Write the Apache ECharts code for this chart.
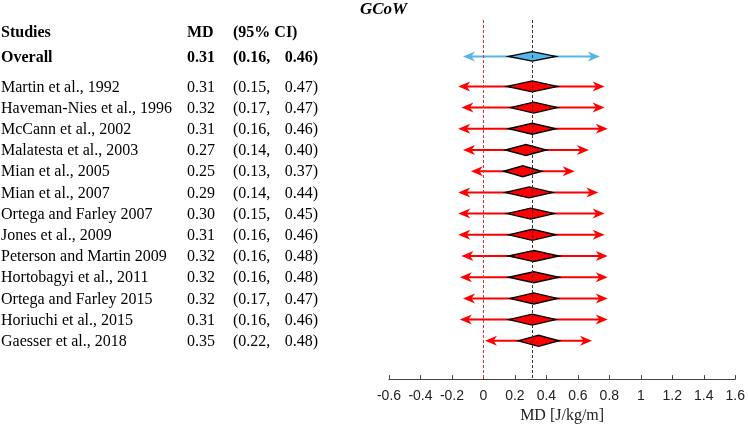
<!DOCTYPE html>
<html>
<head>
<meta charset="utf-8">
<script src="https://cdn.jsdelivr.net/npm/echarts@6/dist/echarts.min.js"></script>
<style>html,body{margin:0;padding:0;background:#fff;}#c{width:748px;height:429px;}</style>
</head>
<body>
<div id="c"></div>
<script>
// ---- data ----
const studies = ["Martin et al., 1992","Haveman-Nies et al., 1996","McCann et al., 2002","Malatesta et al., 2003","Mian et al., 2005","Mian et al., 2007","Ortega and Farley 2007","Jones et al., 2009","Peterson and Martin 2009","Hortobagyi et al., 2011","Ortega and Farley 2015","Horiuchi et al., 2015","Gaesser et al., 2018"];
const md     = [0.31,0.32,0.31,0.27,0.25,0.29,0.30,0.31,0.32,0.32,0.32,0.31,0.35];
const ciLow  = [0.15,0.17,0.16,0.14,0.13,0.14,0.15,0.16,0.16,0.16,0.17,0.16,0.22];
const ciHigh = [0.47,0.47,0.46,0.40,0.37,0.44,0.45,0.46,0.48,0.48,0.47,0.46,0.48];
const piLow  = [-0.16,-0.14,-0.16,-0.13,-0.08,-0.16,-0.16,-0.16,-0.14,-0.15,-0.13,-0.15,0.01];
const piHigh = [0.77,0.77,0.79,0.67,0.58,0.73,0.77,0.77,0.79,0.79,0.79,0.79,0.69];
const overall = {label:"Overall", md:0.31, ciLow:0.16, ciHigh:0.46, piLow:-0.13, piHigh:0.74};
const headers = ["Studies","MD","(95% CI)"];
const xTicks = {min:-0.6, max:1.6, interval:0.2};
const refLines = [0, 0.31];

// ---- layout (rows) ----
const HEADER_ROW = -1.575, OVERALL_ROW = -0.415;
const rowOf = i => i + 1;
const fmt = v => v.toFixed(2);

const intervalData = studies.map((s,i)=>[md[i],ciLow[i],ciHigh[i],piLow[i],piHigh[i],rowOf(i),0]);
intervalData.unshift([overall.md,overall.ciLow,overall.ciHigh,overall.piLow,overall.piHigh,OVERALL_ROW,1]);

const tableData = [[0,HEADER_ROW,-1],[0,OVERALL_ROW,-2]].concat(studies.map((s,i)=>[0,rowOf(i),i]));

const SERIF = "'Liberation Serif','Times New Roman',serif";

function arrowHead(tipX, y, dir){ // dir: -1 left-pointing, +1 right-pointing
  const L=12, N=8.5, W=5;
  return [[tipX,y],[tipX-dir*L,y-W],[tipX-dir*N,y],[tipX-dir*L,y+W]];
}

function renderInterval(params, api){
  const m=api.value(0), lo=api.value(1), hi=api.value(2), plo=api.value(3), phi=api.value(4), r=api.value(5), isOv=api.value(6);
  const pm=api.coord([m,r]), plo_=api.coord([plo,r]), phi_=api.coord([phi,r]), clo=api.coord([lo,r]), chi=api.coord([hi,r]);
  const y=pm[1];
  const col = isOv ? '#56b6e6' : '#ff0000';
  const h = isOv ? 9.5 : 11;
  return {type:'group', children:[
    {type:'line', shape:{x1:plo_[0]+6,y1:y,x2:phi_[0]-6,y2:y}, style:{stroke:col,lineWidth:2}},
    {type:'polygon', shape:{points:arrowHead(plo_[0],y,-1)}, style:{fill:col}},
    {type:'polygon', shape:{points:arrowHead(phi_[0],y,1)}, style:{fill:col}},
    {type:'polygon', shape:{points:[[clo[0],y],[pm[0],y-h/2],[chi[0],y],[pm[0],y+h/2]]}, style:{fill:col,stroke:'#000',lineWidth:1.4}}
  ]};
}

function txt(x,y,text,bold,align){
  return {type:'text', x:x, y:y, style:{text:text, fill:'#000', fontSize:16, fontFamily:SERIF, fontWeight:bold?'bold':'normal', align:align||'left', verticalAlign:'middle'}};
}

function renderTable(params, api){
  const r=api.value(1), k=api.value(2);
  const y=api.coord([0,r])[1]+1;
  if(k===-1){
    return {type:'group', children:[txt(1,y,headers[0],true),txt(187,y,headers[1],true),txt(233,y,headers[2],true)]};
  }
  if(k===-2){
    return {type:'group', children:[txt(1,y,overall.label,true),txt(187,y,fmt(overall.md),true),txt(233,y,'('+fmt(overall.ciLow)+',',true),txt(318,y,fmt(overall.ciHigh)+')',true,'right')]};
  }
  return {type:'group', children:[txt(1,y,studies[k],false),txt(187,y,fmt(md[k]),false),txt(233,y,'('+fmt(ciLow[k])+',',false),txt(318,y,fmt(ciHigh[k])+')',false,'right')]};
}

const chart = echarts.init(document.getElementById('c'), null, {renderer:'canvas'});
chart.setOption({
  animation:false,
  backgroundColor:'#fff',
  title:{text:'GCoW', left:355, top:-4, textStyle:{fontFamily:SERIF, fontSize:17, fontWeight:'bold', fontStyle:'italic', color:'#000'}},
  grid:{left:389, right:10, top:20, bottom:44},
  xAxis:{type:'value', min:xTicks.min, max:xTicks.max, interval:xTicks.interval,
    name:'MD [J/kg/m]', nameLocation:'middle', nameGap:27,
    nameTextStyle:{fontFamily:SERIF, fontSize:16, color:'#222'},
    axisLine:{show:true, onZero:false, lineStyle:{color:'#444', width:1}},
    axisTick:{show:true, inside:true, length:4, lineStyle:{color:'#444'}},
    axisLabel:{fontFamily:"'Liberation Sans',Arial,sans-serif", fontSize:14, color:'#222', margin:10},
    splitLine:{show:false}},
  yAxis:{type:'value', inverse:true, min:-2.132, max:14.806, show:false},
  series:[
    {type:'custom', name:'ref', data:[], renderItem:()=>null, z:1,
      markLine:{silent:true, symbol:['none','none'], label:{show:false},
        data:[{xAxis:refLines[0], lineStyle:{color:'#e03030', type:[3,2], width:1}},
              {xAxis:refLines[1], lineStyle:{color:'#333', type:[3,2], width:1}}]}},
    {type:'custom', name:'intervals', data:intervalData, renderItem:renderInterval, z:3, clip:false,
      encode:{x:[0,1,2,3,4], y:5}},
    {type:'custom', name:'table', data:tableData, renderItem:renderTable, z:4, clip:false,
      encode:{y:1}}
  ]
});
</script>
</body>
</html>
